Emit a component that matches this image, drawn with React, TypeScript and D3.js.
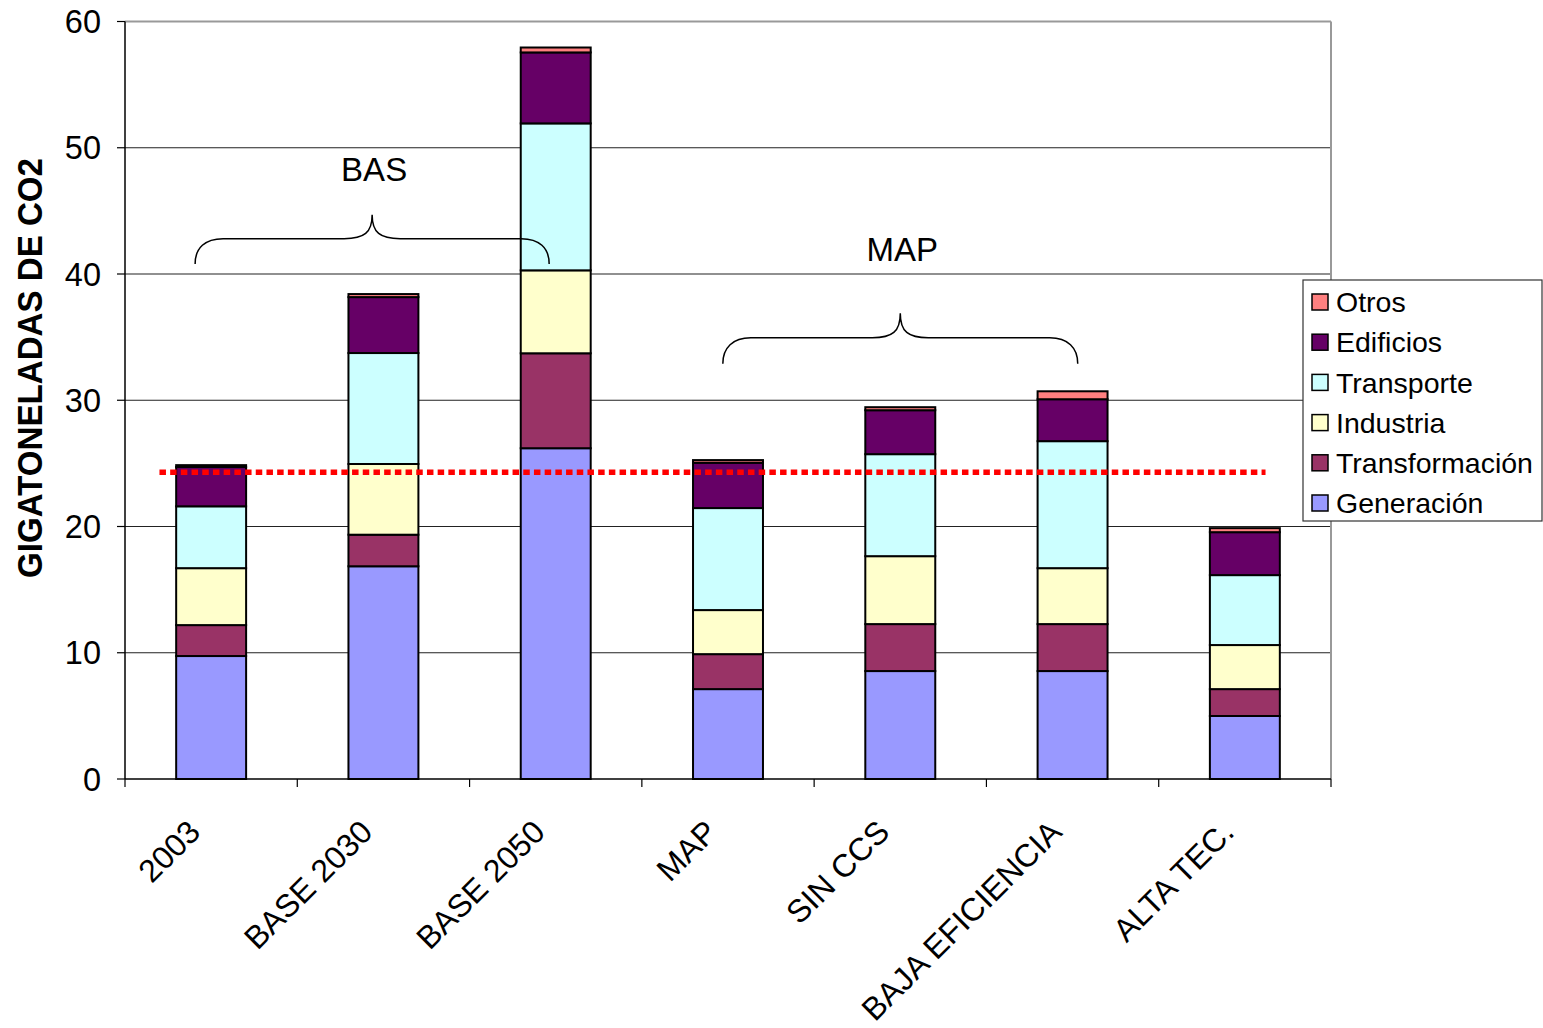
import React from "react";
import * as d3 from "d3";

const categories = ["2003", "BASE 2030", "BASE 2050", "MAP", "SIN CCS", "BAJA EFICIENCIA", "ALTA TEC."];
const seriesNames = ["Generación", "Transformación", "Industria", "Transporte", "Edificios", "Otros"];
const generacion = [9.74, 16.85, 26.2, 7.12, 8.55, 8.55, 4.99];
const transformacion = [2.45, 2.5, 7.52, 2.77, 3.72, 3.72, 2.13];
const industria = [4.51, 5.6, 6.57, 3.49, 5.38, 4.43, 3.49];
const transporte = [4.9, 8.79, 11.64, 8.08, 8.08, 10.06, 5.54];
const edificios = [3.11, 4.43, 5.62, 3.59, 3.48, 3.32, 3.4];
const otros = [0.15, 0.24, 0.39, 0.21, 0.24, 0.63, 0.32];
const seriesColors = ["#9999FF", "#993366", "#FFFFCC", "#CCFFFF", "#660066", "#FF8080"];
const yTicks = [0, 10, 20, 30, 40, 50, 60];
const referenceLevel = 24.3;
const yTitle = "GIGATONELADAS DE CO2";

// annotations in data terms (category index position, value)
const braces = [
  { label: "BAS", from: -0.093, to: 1.962, base: 40.8, mid: 42.8, tip: 44.7, labelY: 47.4 },
  { label: "MAP", from: 2.97, to: 5.03, base: 32.9, mid: 34.95, tip: 36.9, labelY: 41.0 },
];

const W = 1543;
const H = 1028;
const FONT = "'Liberation Sans', Arial, Helvetica, sans-serif";

export default function App() {
  const left = 125, right = 1331, top = 21.5, bottom = 779;
  const x = d3.scaleBand<string>().domain(categories).range([left, right]).paddingInner(0.594).paddingOuter(0.297);
  const y = d3.scaleLinear().domain([0, 60]).range([bottom, top]);
  const step = x.step();
  const bw = x.bandwidth();
  const cx = (i: number) => (x(categories[0]) as number) + bw / 2 + i * step;

  const rows = categories.map((c, i) => ({
    cat: c,
    "Generación": generacion[i],
    "Transformación": transformacion[i],
    "Industria": industria[i],
    "Transporte": transporte[i],
    "Edificios": edificios[i],
    "Otros": otros[i],
  }));
  const stacked = d3.stack<any>().keys(seriesNames)(rows);

  const bracePath = (b: typeof braces[0]) => {
    const x0 = cx(b.from), x1 = cx(b.to), xm = (x0 + x1) / 2;
    const yb = y(b.base), ym = y(b.mid), yt = y(b.tip);
    const r = 28;
    const p = d3.path();
    p.moveTo(x0, yb);
    p.bezierCurveTo(x0, yb - 16, x0 + 10, ym, x0 + r, ym);
    p.lineTo(xm - r, ym);
    p.bezierCurveTo(xm - 8, ym, xm, ym - 6, xm, yt);
    p.bezierCurveTo(xm, ym - 6, xm + 8, ym, xm + r, ym);
    p.lineTo(x1 - r, ym);
    p.bezierCurveTo(x1 - 10, ym, x1, yb - 16, x1, yb);
    return p.toString();
  };

  const legendItems = [...seriesNames].reverse();
  const legendColors = [...seriesColors].reverse();

  return (
    <svg width={W} height={H} style={{ position: "absolute", left: 0, top: 0, background: "#fff" }} fontFamily={FONT}>
      <rect x={0} y={0} width={W} height={H} fill="#fff" />
      {/* gridlines */}
      {yTicks.filter((t) => t > 0 && t < 60).map((t) => (
        <line key={t} x1={left} x2={right} y1={y(t)} y2={y(t)} stroke="#222" strokeWidth={1.2} />
      ))}
      {/* plot border top/right */}
      <line x1={left} x2={right} y1={y(60)} y2={y(60)} stroke="#999" strokeWidth={2} />
      <line x1={right} x2={right} y1={y(60)} y2={bottom} stroke="#999" strokeWidth={2} />

      {/* bars */}
      {stacked.map((s, si) => (
        <g key={s.key}>
          {s.map((d, i) => (
            <rect
              key={i}
              x={x(categories[i])}
              y={y(d[1])}
              width={bw}
              height={y(d[0]) - y(d[1])}
              fill={seriesColors[si]}
              stroke="#000"
              strokeWidth={2}
            />
          ))}
        </g>
      ))}

      {/* axes */}
      <line x1={left} x2={left} y1={y(60)} y2={bottom} stroke="#000" strokeWidth={1.5} />
      <line x1={left} x2={right} y1={bottom} y2={bottom} stroke="#000" strokeWidth={1.5} />
      {yTicks.map((t) => (
        <g key={t}>
          <line x1={left - 8} x2={left} y1={y(t)} y2={y(t)} stroke="#000" strokeWidth={1.2} />
          <text x={101} y={y(t)} dy="0.36em" textAnchor="end" fontSize={32.5} fill="#000">
            {t}
          </text>
        </g>
      ))}
      {categories.map((c, i) => (
        <line key={"t" + i} x1={left + i * step} x2={left + i * step} y1={bottom} y2={bottom + 8} stroke="#000" strokeWidth={1.2} />
      ))}
      <line x1={right} x2={right} y1={bottom} y2={bottom + 8} stroke="#000" strokeWidth={1.2} />
      {categories.map((c, i) => (
        <text
          key={"l" + i}
          transform={`translate(${cx(i) - 9},${bottom + 55}) rotate(-45)`}
          textAnchor="end"
          fontSize={32}
          fill="#000"
        >
          {c}
        </text>
      ))}

      {/* y title */}
      <text
        transform={`translate(42,${(158 + 578) / 2}) rotate(-90)`}
        textAnchor="middle"
        fontSize={35}
        fontWeight="bold"
        textLength={420}
        lengthAdjust="spacingAndGlyphs"
        fill="#000"
      >
        {yTitle}
      </text>

      {/* reference dotted line */}
      <line
        x1={cx(-0.3)}
        x2={cx(6.12)}
        y1={y(referenceLevel)}
        y2={y(referenceLevel)}
        stroke="#FF0000"
        strokeWidth={5.5}
        strokeDasharray="6.5 4.2"
      />

      {/* braces */}
      {braces.map((b) => (
        <g key={b.label}>
          <path d={bracePath(b)} fill="none" stroke="#000" strokeWidth={1.5} />
          <text x={(cx(b.from) + cx(b.to)) / 2 + 2} y={y(b.labelY)} textAnchor="middle" fontSize={33} fill="#000">
            {b.label}
          </text>
        </g>
      ))}

      {/* legend */}
      <rect x={1303} y={280} width={239} height={241} fill="#fff" stroke="#333" strokeWidth={1.2} />
      {legendItems.map((n, i) => (
        <g key={n} transform={`translate(1312,${302 + i * 40.2})`}>
          <rect x={0} y={-8} width={16} height={16} fill={legendColors[i]} stroke="#000" strokeWidth={1.5} />
          <text x={24} y={0} dy="0.36em" fontSize={28.5} fill="#000">
            {n}
          </text>
        </g>
      ))}
    </svg>
  );
}
